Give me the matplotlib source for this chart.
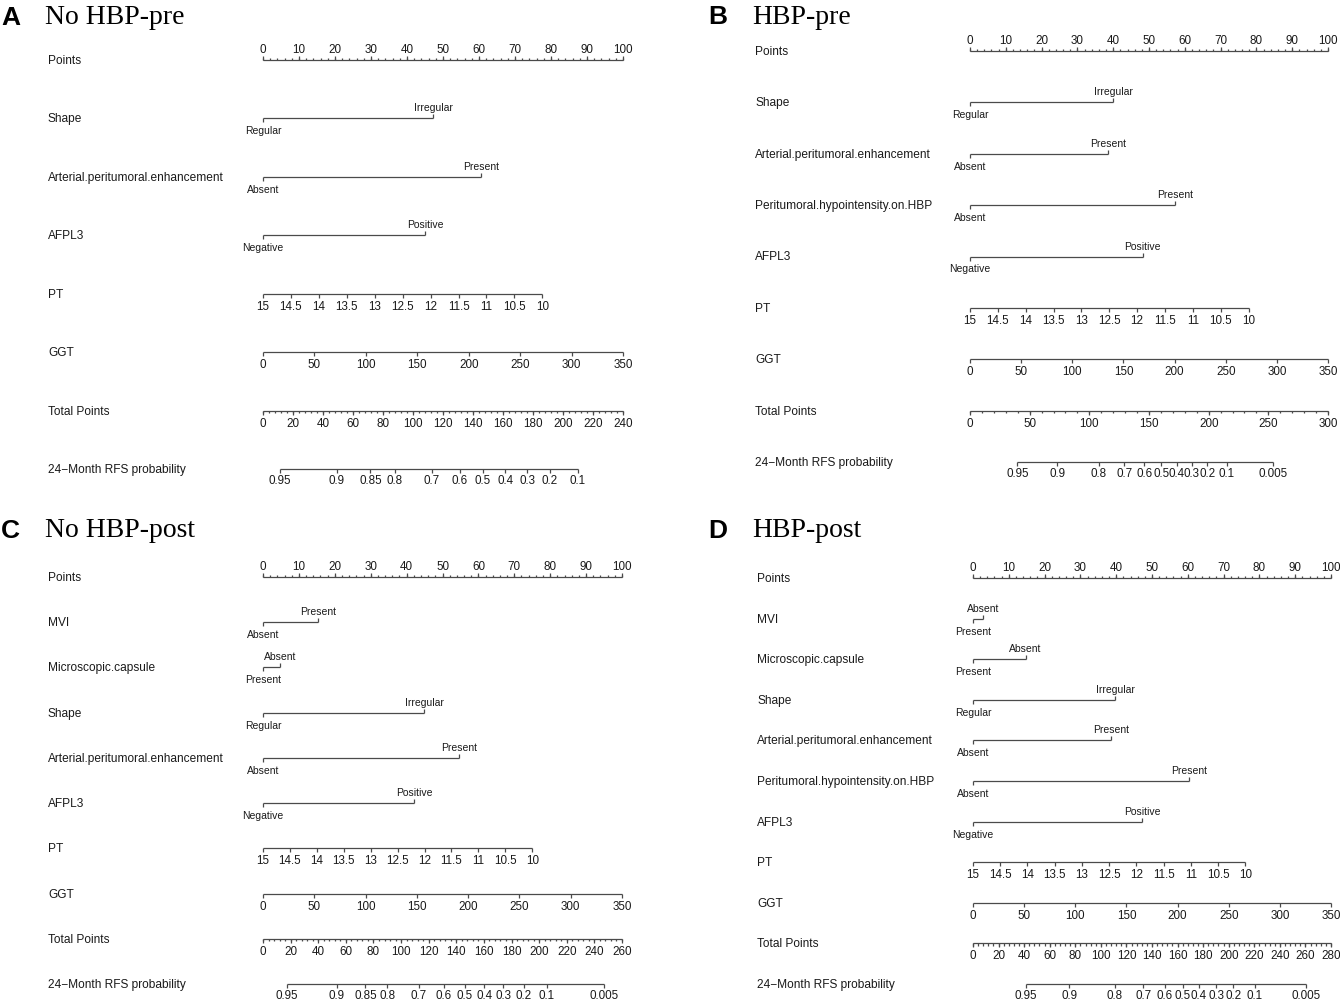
import numpy as np
import matplotlib.pyplot as plt
from matplotlib import transforms

plt.rcParams["font.family"] = ["Liberation Sans", "DejaVu Sans"]

W, H = 1340, 1004
LINE = "#4a4a4a"
TEXT = "#1a1a1a"

# shared axis values
points_ticks = list(range(0, 101, 10))
pt_ticks = [15, 14.5, 14, 13.5, 13, 12.5, 12, 11.5, 11, 10.5, 10]
ggt_ticks = [0, 50, 100, 150, 200, 250, 300, 350]

# A: No HBP-pre
a_names = ["Shape", "Arterial.peritumoral.enhancement", "AFPL3"]
a_levels = [["Regular", "Irregular"], ["Absent", "Present"], ["Negative", "Positive"]]
a_points = [[0, 47.3], [0, 60.6], [0, 45.1]]
a_pt_at_10 = 77.6
a_total_ticks = list(range(0, 241, 20))
a_prob_labels = ["0.95", "0.9", "0.85", "0.8", "0.7", "0.6", "0.5", "0.4", "0.3", "0.2", "0.1"]
a_prob_total = [11.4, 49.0, 71.6, 88.0, 112.5, 131.1, 146.7, 161.5, 176.0, 191.0, 209.9]

# B: HBP-pre
b_names = ["Shape", "Arterial.peritumoral.enhancement", "Peritumoral.hypointensity.on.HBP", "AFPL3"]
b_levels = [["Regular", "Irregular"], ["Absent", "Present"], ["Absent", "Present"], ["Negative", "Positive"]]
b_points = [[0, 40.0], [0, 38.6], [0, 57.2], [0, 48.2]]
b_pt_at_10 = 77.8
b_total_ticks = list(range(0, 301, 50))
b_prob_labels = ["0.95", "0.9", "0.8", "0.7", "0.6", "0.5", "0.4", "0.3", "0.2", "0.1", "0.005"]
b_prob_total = [39.6, 73.2, 108.1, 129.3, 146.1, 160.3, 173.2, 185.8, 198.9, 215.1, 253.7]

# C: No HBP-post
c_names = ["MVI", "Microscopic.capsule", "Shape", "Arterial.peritumoral.enhancement", "AFPL3"]
c_levels = [["Absent", "Present"], ["Present", "Absent"], ["Regular", "Irregular"],
            ["Absent", "Present"], ["Negative", "Positive"]]
c_points = [[0, 15.3], [0, 4.8], [0, 44.9], [0, 54.6], [0, 42.2]]
c_pt_at_10 = 75.0
c_total_ticks = list(range(0, 261, 20))
c_prob_labels = ["0.95", "0.9", "0.85", "0.8", "0.7", "0.6", "0.5", "0.4", "0.3", "0.2", "0.1", "0.005"]
c_prob_total = [17.3, 53.4, 74.2, 89.9, 112.8, 130.9, 146.0, 160.2, 174.0, 188.8, 205.7, 247.3]

# D: HBP-post
d_names = ["MVI", "Microscopic.capsule", "Shape", "Arterial.peritumoral.enhancement",
           "Peritumoral.hypointensity.on.HBP", "AFPL3"]
d_levels = [["Present", "Absent"], ["Present", "Absent"], ["Regular", "Irregular"],
            ["Absent", "Present"], ["Absent", "Present"], ["Negative", "Positive"]]
d_points = [[0, 2.9], [0, 14.7], [0, 39.7], [0, 38.5], [0, 60.4], [0, 47.3]]
d_pt_at_10 = 76.1
d_total_ticks = list(range(0, 281, 20))
d_prob_labels = ["0.95", "0.9", "0.8", "0.7", "0.6", "0.5", "0.4", "0.3", "0.2", "0.1", "0.005"]
d_prob_total = [41.5, 75.3, 111.1, 133.2, 149.9, 164.0, 176.8, 190.1, 203.6, 220.6, 260.2]


def px(v):
    return v * 0.72  # pixels -> points at dpi 100


def draw_panel(fig, box, label_x, letter, title, title_xy, names, levels, points,
               pt_at_10, total_ticks, prob_labels, prob_total):
    x0, x100, ytop, ybot = box
    rows = ["Points"] + names + ["PT", "GGT", "Total Points", "24\u2212Month RFS probability"]
    n = len(rows)
    ax = fig.add_axes([x0 / W, 1 - ybot / H, (x100 - x0) / W, (ybot - ytop) / H])
    ax.set_xlim(0, 100)
    ax.set_ylim(n - 1, 0)
    ax.axis("off")
    step = (ybot - ytop) / (n - 1)
    major = 4.0 / step
    minor = 2.2 / step
    lw = 0.9

    def hline(xa, xb, y):
        ax.plot([xa, xb], [y, y], color=LINE, lw=lw, clip_on=False, solid_capstyle="butt")

    def ticks(xs, y, length, up):
        d = -length if up else length
        ax.vlines(xs, y, y + d, color=LINE, lw=lw, clip_on=False)

    def labels(xs, texts, y, up, size=8.4, gap=12):
        off = px(11) if up else -px(gap)
        for xv, t in zip(xs, texts):
            ax.annotate(t, (xv, y), xytext=(0, off), textcoords="offset points",
                        ha="center", va="center", fontsize=size, color=TEXT)

    # row names
    trans = transforms.blended_transform_factory(fig.transFigure, ax.transData)
    for i, r in enumerate(rows):
        ax.text(label_x / W, i, r, transform=trans, ha="left", va="center",
                fontsize=8.6, color=TEXT)

    # points axis
    hline(0, 100, 0)
    ticks(np.arange(0, 101, 2), 0, minor, True)
    ticks(points_ticks, 0, major, True)
    labels(points_ticks, [str(t) for t in points_ticks], 0, True)

    # categorical predictors
    for i, (lev, pts) in enumerate(zip(levels, points), start=1):
        hline(pts[0], pts[1], i)
        ticks([pts[0]], i, major, False)
        ticks([pts[1]], i, major, True)
        labels([pts[0]], [lev[0]], i, False, size=7.5)
        labels([pts[1]], [lev[1]], i, True, size=7.5)

    # PT
    r = len(names) + 1
    pt_x = [(15 - v) / 5 * pt_at_10 for v in pt_ticks]
    hline(pt_x[0], pt_x[-1], r)
    ticks(pt_x, r, major, False)
    labels(pt_x, [f"{v:g}" for v in pt_ticks], r, False)

    # GGT
    r += 1
    gx = [v / 350 * 100 for v in ggt_ticks]
    hline(0, 100, r)
    ticks(gx, r, major, False)
    labels(gx, [str(v) for v in ggt_ticks], r, False)

    # total points
    r += 1
    tmax = total_ticks[-1]
    sub = (total_ticks[1] - total_ticks[0]) / 5
    hline(0, 100, r)
    ticks(np.arange(0, tmax + 0.1, sub) / tmax * 100, r, minor, False)
    tx = [v / tmax * 100 for v in total_ticks]
    ticks(tx, r, major, False)
    labels(tx, [str(v) for v in total_ticks], r, False)

    # probability
    r += 1
    px_ = [v / tmax * 100 for v in prob_total]
    hline(px_[0], px_[-1], r)
    ticks(px_, r, major, False)
    labels(px_, prob_labels, r, False, gap=11)

    # panel title
    lx, tx0, ty = title_xy
    fig.text(lx / W, 1 - ty / H, letter, ha="left", va="center", fontsize=19,
             fontweight="bold", color="black", family="Liberation Sans")
    fig.text(tx0 / W, 1 - ty / H, title, ha="left", va="center", fontsize=20,
             color="black", family="Liberation Serif")


fig = plt.figure(figsize=(W / 100, H / 100), dpi=100)

draw_panel(fig, (263, 623, 61, 470), 48, "A", "No HBP-pre", (1, 45, 18),
           a_names, a_levels, a_points, a_pt_at_10, a_total_ticks, a_prob_labels, a_prob_total)
draw_panel(fig, (970, 1328, 52, 463), 755, "B", "HBP-pre", (708, 752, 17),
           b_names, b_levels, b_points, b_pt_at_10, b_total_ticks, b_prob_labels, b_prob_total)
draw_panel(fig, (263, 622, 578, 985), 48, "C", "No HBP-post", (1, 45, 531),
           c_names, c_levels, c_points, c_pt_at_10, c_total_ticks, c_prob_labels, c_prob_total)
draw_panel(fig, (973, 1331, 579, 985), 757, "D", "HBP-post", (708, 752, 531),
           d_names, d_levels, d_points, d_pt_at_10, d_total_ticks, d_prob_labels, d_prob_total)

fig.savefig("out.png", dpi=100, facecolor="white")
